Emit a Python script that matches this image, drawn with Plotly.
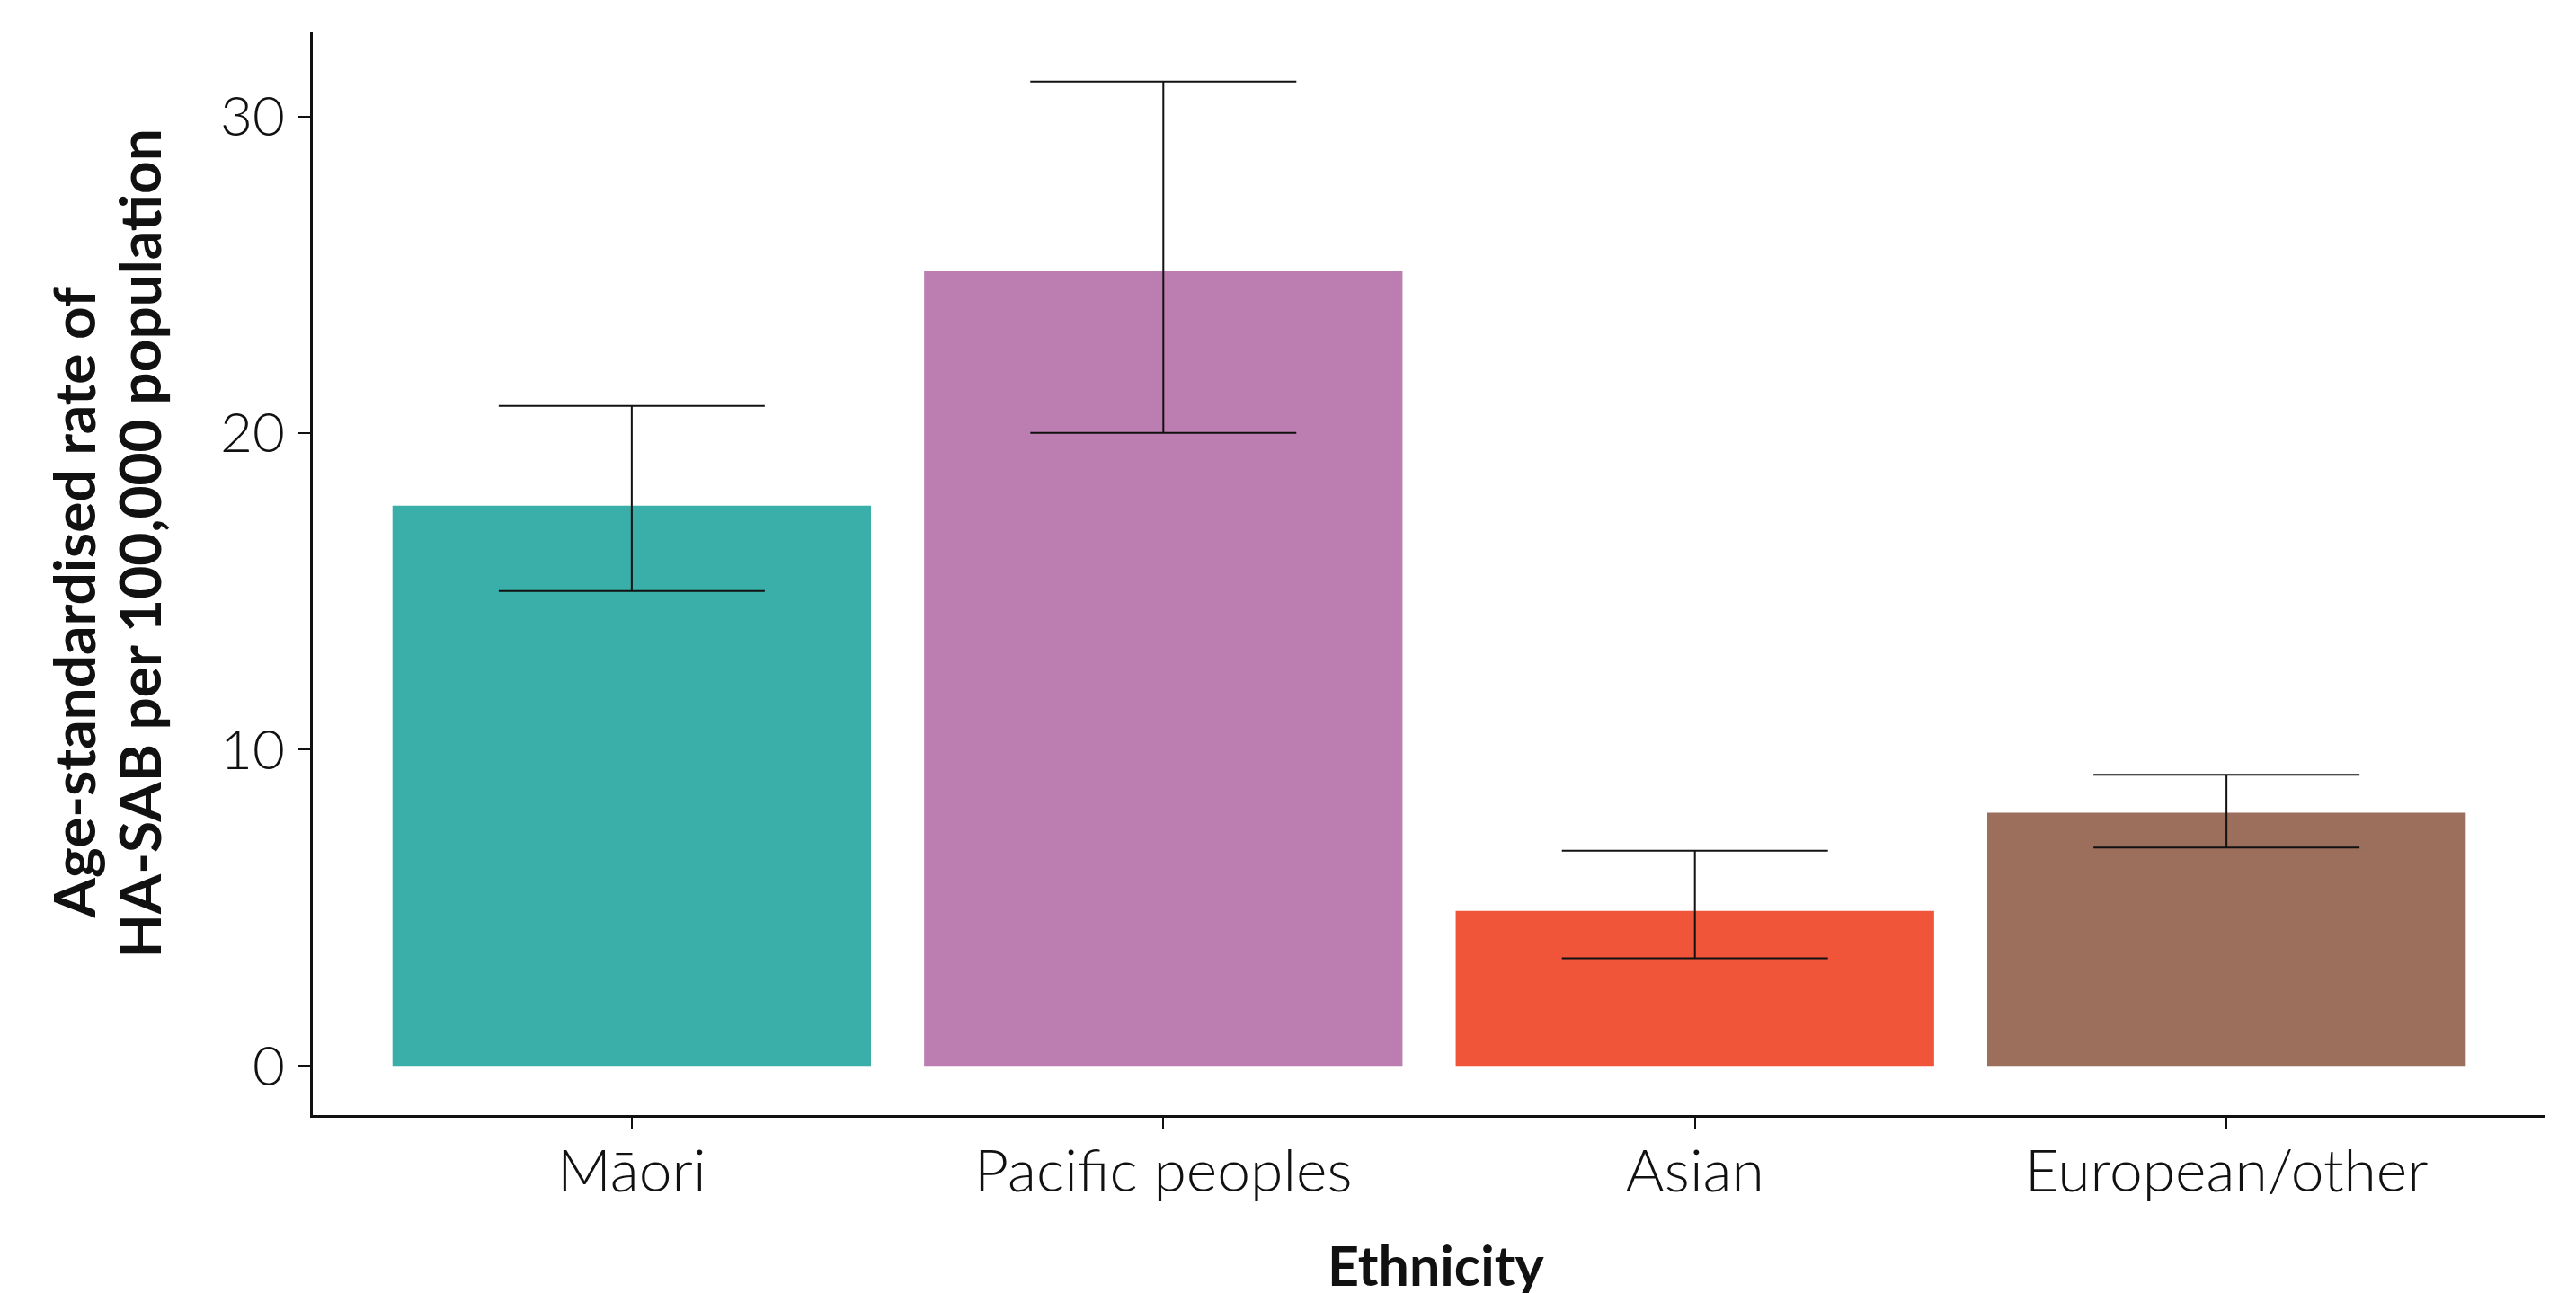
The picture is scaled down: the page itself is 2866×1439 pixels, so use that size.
import plotly.graph_objects as go

# Age-standardised HA-SAB rates by ethnicity, with 95% confidence limits
ethnicity = ["Māori", "Pacific peoples", "Asian", "European/other"]
rate = [17.7, 25.1, 4.9, 8.0]
ci_lower = [15.0, 20.0, 3.4, 6.9]
ci_upper = [20.85, 31.1, 6.8, 9.2]
bar_colours = ["#3AAFA9", "#BC7DB1", "#F05539", "#9B6F5C"]

y_ticks = [0, 10, 20, 30]

W, H = 2866, 1439
M_L, M_R, M_T, M_B = 348, 34, 36, 198

x_pos = list(range(1, len(ethnicity) + 1))
err_plus = [u - r for u, r in zip(ci_upper, rate)]
err_minus = [r - l for r, l in zip(rate, ci_lower)]

fig = go.Figure()
fig.add_trace(go.Bar(
    x=x_pos,
    y=rate,
    width=0.9,
    marker=dict(color=bar_colours, line=dict(width=0)),
    error_y=dict(
        type="data",
        symmetric=False,
        array=err_plus,
        arrayminus=err_minus,
        color="#111111",
        thickness=2,
        width=148,
    ),
    showlegend=False,
))

# y range padded by 5% of the data span, like a ggplot continuous scale
y_top = max(ci_upper)
pad = 0.05 * y_top
axis_style = dict(
    ticks="outside",
    ticklen=13,
    tickwidth=1.5,
    tickcolor="#111111",
    showline=True,
    linecolor="#111111",
    linewidth=2.5,
    showgrid=False,
    zeroline=False,
)

fig.update_layout(
    width=W,
    height=H,
    margin=dict(l=M_L, r=M_R, t=M_T, b=M_B, pad=0),
    plot_bgcolor="white",
    paper_bgcolor="white",
    xaxis=dict(
        range=[0.4, 4.6],
        tickmode="array",
        tickvals=x_pos,
        ticktext=ethnicity,
        tickfont=dict(family="Lato", size=66, color="#111111", weight=300),
        ticklabelstandoff=-10,
        **axis_style,
    ),
    yaxis=dict(
        range=[-pad, y_top + pad],
        tickmode="array",
        tickvals=y_ticks,
        ticktext=[str(v) for v in y_ticks],
        tickfont=dict(family="Lato", size=62, color="#111111", weight=300),
        ticklabelstandoff=3,
        **axis_style,
    ),
)

title_font = dict(family="Lato", size=64, color="#111111", weight=700)
# two-line y-axis title, one annotation per line
fig.add_annotation(
    text="Age-standardised rate of",
    xref="paper", yref="paper", x=-0.1071, y=0.4734,
    xanchor="center", yanchor="middle", textangle=-90,
    showarrow=False, font=title_font,
)
fig.add_annotation(
    text="HA-SAB per 100,000 population",
    xref="paper", yref="paper", x=-0.0777, y=0.5282,
    xanchor="center", yanchor="middle", textangle=-90,
    showarrow=False, font=title_font,
)
fig.add_annotation(
    text="Ethnicity",
    xref="paper", yref="paper", x=0.503, y=-0.138,
    xanchor="center", yanchor="middle",
    showarrow=False,
    font=dict(family="Lato", size=61, color="#111111", weight=700),
)

fig.write_html("out.html")
